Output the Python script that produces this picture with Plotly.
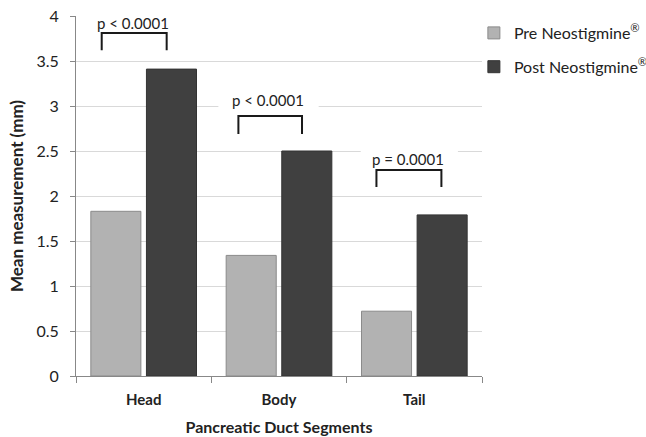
import plotly.graph_objects as go

categories = ["Head", "Body", "Tail"]
pre_values = [1.83, 1.34, 0.72]
post_values = [3.41, 2.50, 1.79]
p_labels = ["p < 0.0001", "p < 0.0001", "p = 0.0001"]
series_names = ["Pre Neostigmine<sup>®</sup>", "Post Neostigmine<sup>®</sup>"]
y_ticks = [0, 0.5, 1, 1.5, 2, 2.5, 3, 3.5, 4]
y_tick_labels = ["0", "0.5", "1", "1.5", "2", "2.5", "3", "3.5", "4"]

# bracket geometry (offset from category centre, top y, bottom y)
bracket_left = [-0.31, -0.30, -0.28]
bracket_right = [0.17, 0.17, 0.20]
bracket_top = [3.81, 2.89, 2.29]
bracket_bottom = [3.62, 2.69, 2.10]
label_x = [-0.08, -0.085, -0.05]
label_y = [3.92, 3.07, 2.41]
mask_x0 = [-0.374, -0.448, -0.396]
mask_x1 = [0.285, 0.293, 0.322]
mask_y0 = [3.70, 2.80, 2.30]
mask_y1 = [4.05, 3.15, 2.65]

FONT = "Lato, 'Open Sans', sans-serif"

fig = go.Figure()
fig.add_trace(go.Bar(
    x=categories, y=pre_values, name=series_names[0],
    marker=dict(color="#b2b2b2", line=dict(color="#8a8a8a", width=1)),
    legendgroup="a",
))
fig.add_trace(go.Bar(
    x=categories, y=post_values, name=series_names[1],
    marker=dict(color="#404040", line=dict(color="#333333", width=1)),
    legendgroup="b",
))

shapes = []
annotations = []
for i in range(len(categories)):
    shapes.append(dict(type="rect", xref="x", yref="y", layer="between",
                       x0=i + mask_x0[i], x1=i + mask_x1[i],
                       y0=mask_y0[i], y1=mask_y1[i],
                       fillcolor="white", line=dict(width=0)))
    xl = i + bracket_left[i]
    xr = i + bracket_right[i]
    shapes.append(dict(type="path", xref="x", yref="y", layer="above",
                       path=f"M {xl},{bracket_bottom[i]} L {xl},{bracket_top[i]} L {xr},{bracket_top[i]} L {xr},{bracket_bottom[i]}",
                       line=dict(color="#1a1a1a", width=2)))
    annotations.append(dict(x=i + label_x[i], y=label_y[i], xref="x", yref="y",
                            text=p_labels[i], showarrow=False,
                            font=dict(family=FONT, size=15, color="#222222")))

fig.update_layout(
    width=646, height=437,
    margin=dict(l=76, r=164, t=16, b=61, autoexpand=False),
    paper_bgcolor="white", plot_bgcolor="white",
    bargap=0.178, bargroupgap=0.1,
    font=dict(family=FONT, size=14, color="#222222"),
    shapes=shapes, annotations=annotations,
    legend=dict(x=0.98, y=1.0, xanchor="left", yanchor="top",
                font=dict(family=FONT, size=16, color="#222222"),
                tracegroupgap=10, traceorder="grouped",
                bgcolor="rgba(0,0,0,0)"),
    xaxis=dict(
        range=[-0.5, 2.5], tickson="boundaries", ticks="outside", ticklen=6,
        tickcolor="#888888", showline=True, linecolor="#888888", linewidth=1,
        ticklabelstandoff=10,
        tickfont=dict(family=FONT, size=15, color="#222222", weight="bold"),
        title=dict(text="<b>Pancreatic Duct Segments</b>", standoff=14,
                   font=dict(family=FONT, size=16, color="#222222")),
        showgrid=False,
    ),
    yaxis=dict(
        range=[0, 4], tickvals=y_ticks, ticktext=y_tick_labels,
        ticks="outside", ticklen=5, tickcolor="#888888",
        showline=True, linecolor="#888888", linewidth=1,
        showgrid=True, gridcolor="#d9d9d9", gridwidth=1,
        zeroline=False, ticklabelstandoff=8,
        tickfont=dict(family=FONT, size=16, color="#222222"),
        title=dict(text="<b>Mean measurement (mm)</b>", standoff=8,
                   font=dict(family=FONT, size=17, color="#222222")),
    ),
)

fig.write_html(
    "out.html",
    config={"displayModeBar": False},
    post_script="document.body.style.margin='0';document.body.style.padding='0';",
)
